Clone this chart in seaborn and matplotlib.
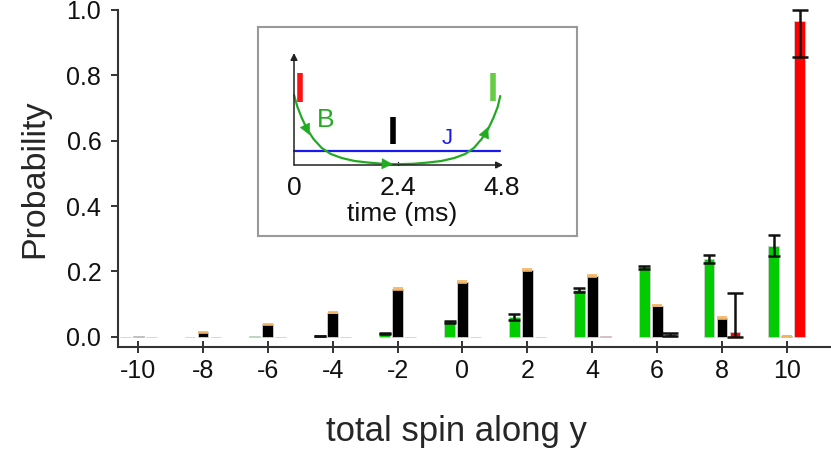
import numpy as np
import pandas as pd
import seaborn as sns
import matplotlib
matplotlib.use("Agg")
import matplotlib.pyplot as plt

# ---------------- data ----------------
spins = [-10, -8, -6, -4, -2, 0, 2, 4, 6, 8, 10]
green_vals = [0.001, 0.001, 0.002, 0.003, 0.011, 0.045, 0.062, 0.142, 0.213, 0.238, 0.279]
black_vals = [0.002, 0.014, 0.038, 0.074, 0.147, 0.169, 0.205, 0.187, 0.095, 0.057, 0.003]
red_vals = [0.001, 0.001, 0.001, 0.001, 0.001, 0.001, 0.001, 0.002, 0.008, 0.016, 0.967]

green_err = [0.0, 0.0, 0.0, 0.001, 0.002, 0.003, 0.009, 0.006, 0.004, 0.013, 0.032]
black_err = [0.0, 0.002, 0.002, 0.002, 0.003, 0.003, 0.002, 0.003, 0.002, 0.003, 0.001]
red_err_lo = [0, 0, 0, 0, 0, 0, 0, 0, 0.004, 0.016, 0.110]
red_err_hi = [0, 0, 0, 0, 0, 0, 0, 0, 0.004, 0.118, 0.033]

y_ticks = [0.0, 0.2, 0.4, 0.6, 0.8, 1.0]

# inset schematic (time in ms, arbitrary field units)
curve_t = [0.0, 0.08, 0.18, 0.30, 0.45, 0.64, 0.85, 1.10, 1.40, 1.70, 2.05, 2.40,
           2.75, 3.10, 3.40, 3.70, 3.95, 4.15, 4.33, 4.48, 4.60, 4.70, 4.76]
curve_b = [70, 58, 47, 36, 26, 17, 11, 7, 4, 2.5, 1.2, 0.8,
           1.2, 2.5, 4, 7, 11, 17, 26, 36, 47, 58, 69]
inset_ticks = [0, 2.4, 4.8]
inset_tick_labels = ["0", "2.4", "4.8"]

series_names = ["green", "black", "red"]
colors = {"green": "#00cc00", "black": "#000000", "red": "#ff0000"}

df = pd.DataFrame({
    "spin": spins * 3,
    "prob": green_vals + black_vals + red_vals,
    "series": ["green"] * len(spins) + ["black"] * len(spins) + ["red"] * len(spins),
})

# ---------------- figure ----------------
sns.set_style("ticks")
plt.rcParams["font.family"] = ["Liberation Sans", "DejaVu Sans"]

W, H = 831, 453
fig = plt.figure(figsize=(W / 100, H / 100), dpi=100)
ax = fig.add_axes([118 / W, (H - 347) / H, (W - 118) / W, (347 - 10) / H])

sns.barplot(data=df, x="spin", y="prob", hue="series", order=spins,
            hue_order=series_names, palette=colors, width=0.6, gap=0.16,
            saturation=1, errorbar=None, legend=False, ax=ax,
            edgecolor="#d0d0d0", linewidth=0.6)

n = len(spins)
patches = ax.patches
def centers(k):
    return np.array([p.get_x() + p.get_width() / 2 for p in patches[k * n:(k + 1) * n]])

xg, xb, xr = centers(0), centers(1), centers(2)

def draw_err(x, y, lo, hi, color, cap, lw):
    x = np.asarray(x); y = np.asarray(y); lo = np.asarray(lo); hi = np.asarray(hi)
    m = (lo + hi) > 0
    ax.errorbar(x[m], y[m], yerr=[lo[m], hi[m]], fmt="none", ecolor=color,
                elinewidth=lw, capsize=cap, capthick=lw, clip_on=False, zorder=5)

draw_err(xg, green_vals, green_err, green_err, "#111111", 4, 1.8)
draw_err(xb, black_vals, black_err, black_err, "#f2b35e", 3.5, 1.2)
draw_err(xr, red_vals, red_err_lo, red_err_hi, "#111111", 5.5, 1.8)

ax.set_ylim(-0.031, 1.0)
ax.set_xlim(-0.31, 10.68)
ax.set_yticks(y_ticks)
ax.set_yticklabels([f"{v:.1f}" for v in y_ticks])
ax.set_xticks(range(n))
ax.set_xticklabels([str(s) for s in spins])

for side in ["top", "right"]:
    ax.spines[side].set_visible(False)
for side in ["left", "bottom"]:
    ax.spines[side].set_color("#333333")
    ax.spines[side].set_linewidth(1.5)

ax.tick_params(axis="x", direction="inout", length=8, width=1.2, labelsize=18, pad=5, colors="#111111")
ax.tick_params(axis="y", direction="out", length=5, width=1.2, labelsize=18, pad=7, colors="#111111")
ax.set_ylabel("Probability", fontsize=24.5, labelpad=12)
ax.set_xlabel("total spin along y", fontsize=25)
ax.xaxis.set_label_coords((456 - 118) / (W - 118), (347 - 432) / (347 - 10))
ax.xaxis.label.set_va("center")

# ---------------- inset ----------------
x0, x1, y0, y1 = 258, 577, 27, 236
ax2 = fig.add_axes([x0 / W, (H - y1) / H, (x1 - x0) / W, (y1 - y0) / H])
px_per_ms = (398 - 294) / 2.4
ax2.set_xlim((x0 - 294) / px_per_ms, (x1 - 294) / px_per_ms)
ax2.set_ylim(165 - y1, 165 - y0)
ax2.set_xticks([]); ax2.set_yticks([])
for s in ax2.spines.values():
    s.set_color("#999999")
    s.set_linewidth(1.5)
ax2.set_facecolor("white")

# axes arrows
ax2.annotate("", xy=(0, 165 - 53), xytext=(0, 0),
             arrowprops=dict(arrowstyle="-|>", color="#222222", lw=1.1, mutation_scale=10, shrinkA=0, shrinkB=0))
ax2.annotate("", xy=((503 - 294) / px_per_ms, 0), xytext=(0, 0),
             arrowprops=dict(arrowstyle="-|>", color="#222222", lw=1.1, mutation_scale=10, shrinkA=0, shrinkB=0))
ax2.plot([2.4, 2.4], [0, 3], color="#222222", lw=1)

for t, lab in zip(inset_ticks, inset_tick_labels):
    ax2.text(t, -23, lab, ha="center", va="center", fontsize=19, color="#111111")
ax2.text(2.49, -49, "time (ms)", ha="center", va="center", fontsize=19, color="#111111")

# blue J line
ax2.plot([0, 4.75], [14, 14], color="#1a1aee", lw=1.6)
# green B curve
ax2.plot(curve_t, curve_b, color="#22aa22", lw=1.6)
for (ta, ya), (tb, yb) in [((0.26, 39), (0.36, 30)), ((2.0, 1.3), (2.28, 0.9)), ((4.40, 30), (4.48, 38))]:
    ax2.annotate("", xy=(tb, yb), xytext=(ta, ya),
                 arrowprops=dict(arrowstyle="-|>,head_length=0.8,head_width=0.4", color="#22aa22",
                                 lw=0.5, mutation_scale=9, shrinkA=0, shrinkB=0))

# pulse markers
ax2.plot([0.14, 0.14], [63, 92], color="#ff1111", lw=4, solid_capstyle="butt")
ax2.plot([2.28, 2.28], [21, 48], color="#000000", lw=4, solid_capstyle="butt")
ax2.plot([4.59, 4.59], [64, 92], color="#66cc44", lw=4, solid_capstyle="butt")

ax2.text(0.74, 45, "B", ha="center", va="center", fontsize=19, color="#22aa22")
ax2.text(3.53, 27, "J", ha="center", va="center", fontsize=16, color="#1a1aee")

fig.savefig("out.png", dpi=100)
